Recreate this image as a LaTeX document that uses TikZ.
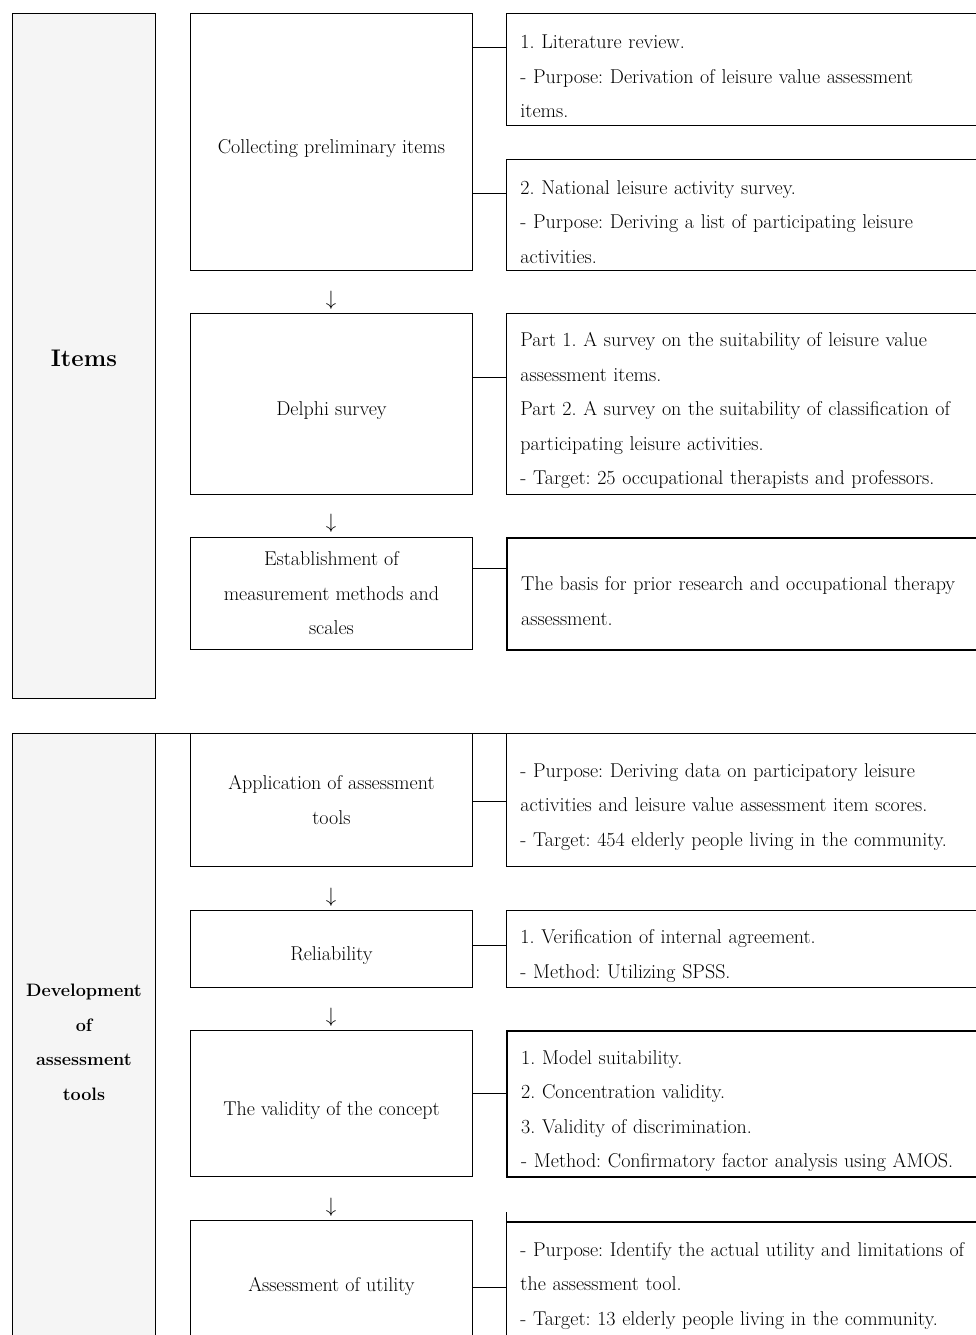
\documentclass[tikz,border=0pt]{standalone}
\usetikzlibrary{positioning}
\definecolor{sidegrey}{HTML}{F5F5F5}
\newcommand\padtop{\rule{0pt}{28pt}}
\frenchspacing

\begin{document}
\begin{tikzpicture}[x=1pt,y=-1pt,
    every node/.style={font=\fontsize{20}{34.5}\selectfont},
    sidebox/.style={draw,fill=sidegrey,line width=.9pt,anchor=north west,
      minimum width=143pt,inner sep=0pt,align=center},
    midbox/.style={draw,line width=.9pt,anchor=north west,minimum width=282pt,
      inner sep=0pt,align=center,execute at begin node=\padtop},
    notebox/.style={draw,line width=.9pt,anchor=north west,text width=480pt,
      inner xsep=14pt,inner ysep=0pt,align=left,execute at begin node=\padtop},
    heavy/.style={line width=2.4pt},
    link/.style={line width=.9pt},
    downmark/.style={inner sep=0pt}]
  \useasboundingbox (0,0) rectangle (976,1335);
  \clip (0,0) rectangle (976,1335);

  % left column
  \node[sidebox,minimum height=685pt,font=\fontsize{24}{30}\selectfont\bfseries]
    (items) at (12,13) {\rule{0pt}{22pt}Items};
  \node[sidebox,minimum height=618pt,font=\fontsize{18}{34.5}\selectfont\bfseries]
    (dev) at (12,733) {Development\\of\\assessment\\tools};

  % middle column
  \node[midbox,minimum height=257pt] (coll) at (190,13) {Collecting preliminary items};
  \node[midbox,minimum height=181pt] (del) at (190,313) {Delphi survey};
  \node[midbox,minimum height=112pt] (est) at (190,537)
    {Establishment of\\measurement methods and\\scales};
  \node[midbox,minimum height=133pt] (app) at (190,733)
    {Application of assessment\\tools};
  \node[midbox,minimum height=77pt] (rel) at (190,910) {Reliability};
  \node[midbox,minimum height=146pt] (val) at (190,1030) {The validity of the concept};
  \node[midbox,minimum height=118pt] (util) at (190,1220) {Assessment of utility};

  \node[downmark] (d1) at (331,300) {$\downarrow$};
  \node[downmark] (d2) at (331,523) {$\downarrow$};
  \node[downmark] (d3) at (331,897) {$\downarrow$};
  \node[downmark] (d4) at (331,1017) {$\downarrow$};
  \node[downmark] (d5) at (331,1207) {$\downarrow$};

  % right column
  \node[notebox,minimum height=112pt] (lit) at (506,13)
    {1. Literature review.\\- Purpose: Derivation of leisure value assessment\\items.};
  \node[notebox,minimum height=111pt] (nat) at (506,159)
    {2. National leisure activity survey.\\- Purpose: Deriving a list of participating leisure\\activities.};
  \node[notebox,minimum height=181pt] (delR) at (506,313)
    {Part 1. A survey on the suitability of leisure value\\assessment items.\\Part 2. A survey on the suitability of classification of\\participating leisure activities.\\- Target: 25 occupational therapists and professors.};
  \node[notebox,heavy,minimum height=112pt] (basis) at (506,537)
    {The basis for prior research and occupational therapy\\assessment.};
  \node[notebox,minimum height=133pt] (appR) at (506,733)
    {- Purpose: Deriving data on participatory leisure\\activities and leisure value assessment item scores.\\- Target: 454 elderly people living in the community.};
  \node[notebox,minimum height=77pt] (relR) at (506,910)
    {1. Verification of internal agreement.\\- Method: Utilizing SPSS.};
  \node[notebox,heavy,minimum height=146pt] (valR) at (506,1030)
    {1. Model suitability.\\2. Concentration validity.\\3. Validity of discrimination.\\- Method: Confirmatory factor analysis using AMOS.};
  \node[notebox,draw=none,minimum height=113pt] (utilR) at (506,1222)
    {- Purpose: Identify the actual utility and limitations of\\the assessment tool.\\- Target: 13 elderly people living in the community.};
  \draw[heavy] (utilR.north west) -- (utilR.north east);
  \draw[link] (utilR.north west) ++(0,-10) -- (utilR.south west);

  % section rule
  \draw[link] (dev.north west) -- (dev.north west -| appR.north east);

  % links
  \path (lit.north west) ++(0,34) coordinate (litIn);
  \draw[link] (coll.east |- litIn) -- (litIn);
  \path (nat.north west) ++(0,34) coordinate (natIn);
  \draw[link] (coll.east |- natIn) -- (natIn);
  \path (delR.north west) ++(0,64) coordinate (delIn);
  \draw[link] (del.east |- delIn) -- (delIn);
  \path (basis.north west) ++(0,31) coordinate (basisIn);
  \draw[link] (est.east |- basisIn) -- (basisIn);
  \path (appR.north west) ++(0,68) coordinate (appIn);
  \draw[link] (app.east |- appIn) -- (appIn);
  \path (relR.north west) ++(0,35) coordinate (relIn);
  \draw[link] (rel.east |- relIn) -- (relIn);
  \path (valR.north west) ++(0,63) coordinate (valIn);
  \draw[link] (val.east |- valIn) -- (valIn);
  \path (utilR.north west) ++(0,65) coordinate (utilIn);
  \draw[link] (util.east |- utilIn) -- (utilIn);
\end{tikzpicture}
\end{document}
